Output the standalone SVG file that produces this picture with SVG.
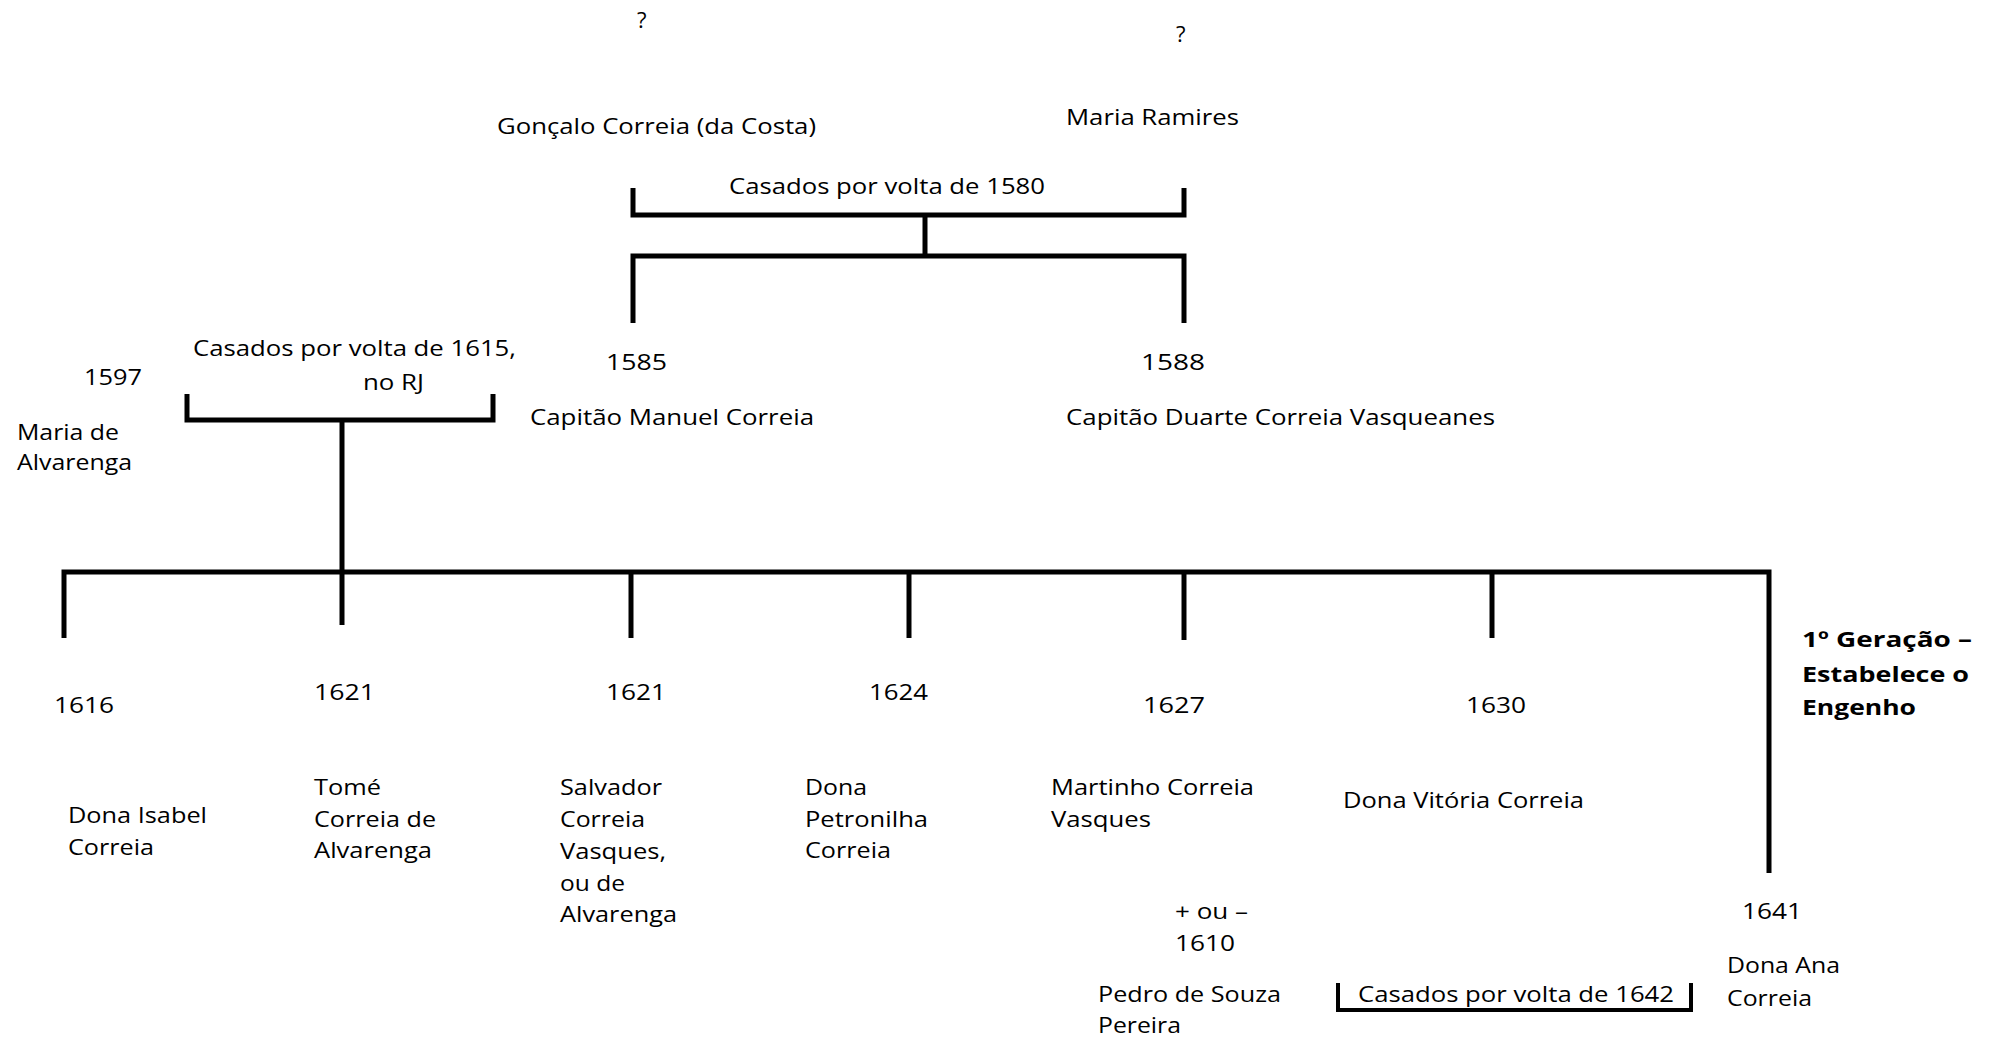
<svg xmlns="http://www.w3.org/2000/svg" width="1996" height="1038" viewBox="0 0 1996 1038">
<style>
text{font-family:"Open Sans","Liberation Sans",sans-serif;font-size:22px;fill:#000}
.b{font-weight:bold}
.ln{fill:none;stroke:#000;stroke-width:5;stroke-linejoin:miter;stroke-linecap:butt}
.thin{stroke-width:4}
</style>
<rect width="1996" height="1038" fill="#fff"/>
<g id="connectors">
<polyline class="ln" points="633,188 633,215 1184,215 1184,188"/>
<line class="ln" x1="925" y1="215" x2="925" y2="256"/>
<polyline class="ln" points="633,323 633,256 1184,256 1184,323"/>
<polyline class="ln" points="187,394 187,420 493,420 493,394"/>
<line class="ln" x1="342" y1="420" x2="342" y2="625"/>
<polyline class="ln" points="64,638 64,572 1769,572 1769,873"/>
<line class="ln" x1="631" y1="572" x2="631" y2="638"/>
<line class="ln" x1="909" y1="572" x2="909" y2="638"/>
<line class="ln" x1="1184" y1="572" x2="1184" y2="640"/>
<line class="ln" x1="1492" y1="572" x2="1492" y2="638"/>
<polyline class="ln thin" points="1338,983 1338,1010 1691,1010 1691,983"/>
</g>
<g id="unk1"><text x="637" y="28">?</text></g>
<g id="unk2"><text x="1176" y="42">?</text></g>
<g id="goncalo"><text x="497" y="134" textLength="319" lengthAdjust="spacingAndGlyphs">Gonçalo Correia (da Costa)</text></g>
<g id="maria-ramires"><text x="1066" y="125" textLength="173" lengthAdjust="spacingAndGlyphs">Maria Ramires</text></g>
<g id="marriage-1580"><text x="729" y="194" textLength="316" lengthAdjust="spacingAndGlyphs">Casados por volta de 1580</text></g>
<g id="marriage-1615">
<text x="193" y="356" textLength="323" lengthAdjust="spacingAndGlyphs">Casados por volta de 1615,</text>
<text x="363" y="390" textLength="61" lengthAdjust="spacingAndGlyphs">no RJ</text>
</g>
<g id="maria-alvarenga">
<text x="84" y="385" textLength="58" lengthAdjust="spacingAndGlyphs">1597</text>
<text x="17" y="440" textLength="102" lengthAdjust="spacingAndGlyphs">Maria de</text>
<text x="17" y="470" textLength="115" lengthAdjust="spacingAndGlyphs">Alvarenga</text>
</g>
<g id="manuel">
<text x="606" y="370" textLength="61" lengthAdjust="spacingAndGlyphs">1585</text>
<text x="530" y="425" textLength="284" lengthAdjust="spacingAndGlyphs">Capitão Manuel Correia</text>
</g>
<g id="duarte">
<text x="1141" y="370" textLength="64" lengthAdjust="spacingAndGlyphs">1588</text>
<text x="1066" y="425" textLength="429" lengthAdjust="spacingAndGlyphs">Capitão Duarte Correia Vasqueanes</text>
</g>
<g id="isabel">
<text x="54" y="713" textLength="60" lengthAdjust="spacingAndGlyphs">1616</text>
<text x="68" y="823" textLength="139" lengthAdjust="spacingAndGlyphs">Dona Isabel</text>
<text x="68" y="855" textLength="86" lengthAdjust="spacingAndGlyphs">Correia</text>
</g>
<g id="tome">
<text x="314" y="700" textLength="61" lengthAdjust="spacingAndGlyphs">1621</text>
<text x="314" y="795" textLength="67" lengthAdjust="spacingAndGlyphs">Tomé</text>
<text x="314" y="827" textLength="122" lengthAdjust="spacingAndGlyphs">Correia de</text>
<text x="314" y="858" textLength="118" lengthAdjust="spacingAndGlyphs">Alvarenga</text>
</g>
<g id="salvador">
<text x="606" y="700" textLength="60" lengthAdjust="spacingAndGlyphs">1621</text>
<text x="560" y="795" textLength="102" lengthAdjust="spacingAndGlyphs">Salvador</text>
<text x="560" y="827" textLength="85" lengthAdjust="spacingAndGlyphs">Correia</text>
<text x="560" y="859" textLength="106" lengthAdjust="spacingAndGlyphs">Vasques,</text>
<text x="560" y="891" textLength="65" lengthAdjust="spacingAndGlyphs">ou de</text>
<text x="560" y="922" textLength="117" lengthAdjust="spacingAndGlyphs">Alvarenga</text>
</g>
<g id="petronilha">
<text x="869" y="700" textLength="59" lengthAdjust="spacingAndGlyphs">1624</text>
<text x="805" y="795" textLength="62" lengthAdjust="spacingAndGlyphs">Dona</text>
<text x="805" y="827" textLength="123" lengthAdjust="spacingAndGlyphs">Petronilha</text>
<text x="805" y="858" textLength="86" lengthAdjust="spacingAndGlyphs">Correia</text>
</g>
<g id="martinho">
<text x="1143" y="713" textLength="62" lengthAdjust="spacingAndGlyphs">1627</text>
<text x="1051" y="795" textLength="203" lengthAdjust="spacingAndGlyphs">Martinho Correia</text>
<text x="1051" y="827" textLength="100" lengthAdjust="spacingAndGlyphs">Vasques</text>
</g>
<g id="vitoria">
<text x="1466" y="713" textLength="60" lengthAdjust="spacingAndGlyphs">1630</text>
<text x="1343" y="808" textLength="241" lengthAdjust="spacingAndGlyphs">Dona Vitória Correia</text>
</g>
<g id="pedro">
<text x="1175" y="919" textLength="73" lengthAdjust="spacingAndGlyphs">+ ou –</text>
<text x="1175" y="951" textLength="60" lengthAdjust="spacingAndGlyphs">1610</text>
<text x="1098" y="1002" textLength="183" lengthAdjust="spacingAndGlyphs">Pedro de Souza</text>
<text x="1098" y="1033" textLength="83" lengthAdjust="spacingAndGlyphs">Pereira</text>
</g>
<g id="marriage-1642"><text x="1358" y="1002" textLength="316" lengthAdjust="spacingAndGlyphs">Casados por volta de 1642</text></g>
<g id="ana">
<text x="1742" y="919" textLength="60" lengthAdjust="spacingAndGlyphs">1641</text>
<text x="1727" y="973" textLength="113" lengthAdjust="spacingAndGlyphs">Dona Ana</text>
<text x="1727" y="1006" textLength="85" lengthAdjust="spacingAndGlyphs">Correia</text>
</g>
<g id="generation">
<text class="b" x="1802" y="647" textLength="170" lengthAdjust="spacingAndGlyphs">1º Geração –</text>
<text class="b" x="1802" y="682" textLength="167" lengthAdjust="spacingAndGlyphs">Estabelece o</text>
<text class="b" x="1802" y="715" textLength="114" lengthAdjust="spacingAndGlyphs">Engenho</text>
</g>
</svg>
